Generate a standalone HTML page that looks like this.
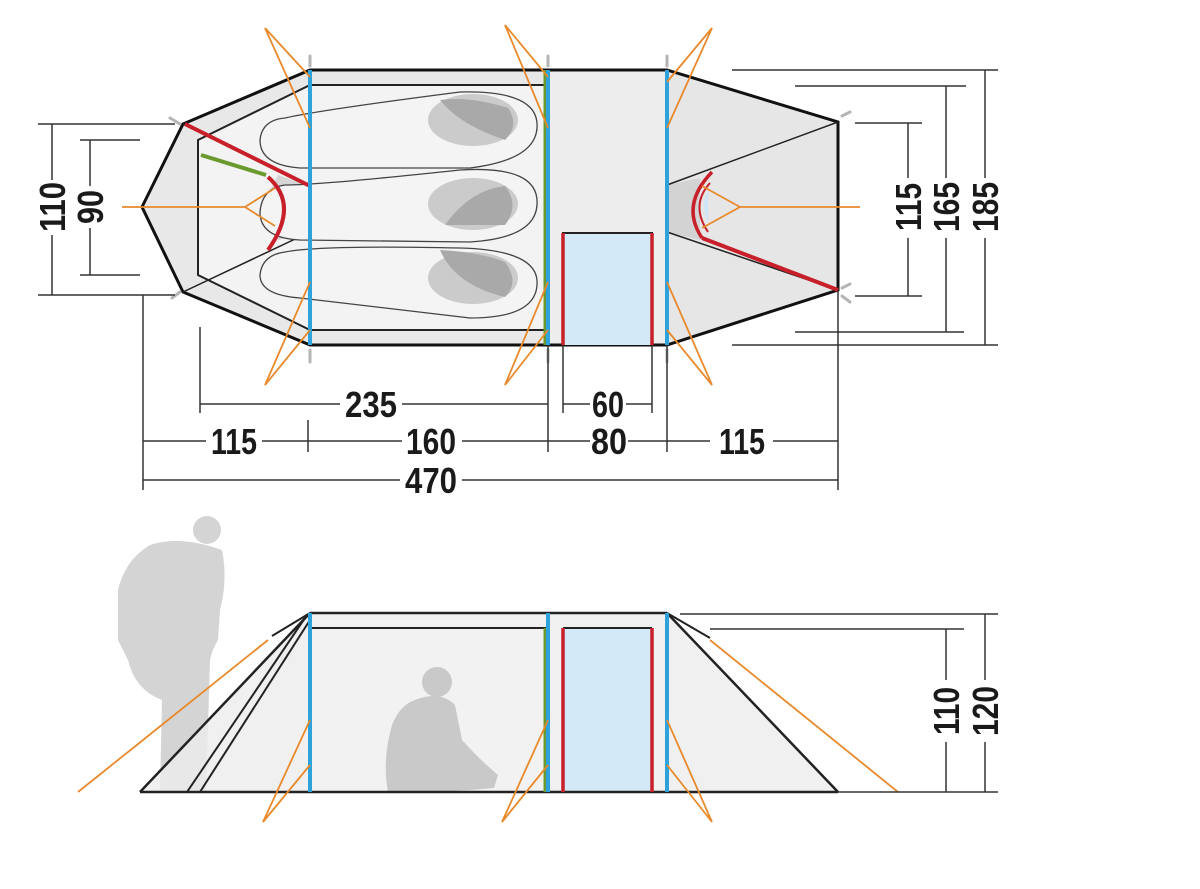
<!DOCTYPE html>
<html><head><meta charset="utf-8"><style>
html,body{margin:0;padding:0;background:#fff}
svg{display:block}
text{font-family:"Liberation Sans Narrow","Liberation Sans",sans-serif;font-weight:bold;font-size:36px;fill:#1a1a1a}
</style></head><body>
<svg width="1200" height="889" viewBox="0 0 1200 889" xmlns="http://www.w3.org/2000/svg">
<!-- ============ TOP VIEW ============ -->
<polygon points="310,70 667,70 838,122 838,290 667,345 310,345 183,292 142,207 183,124" fill="#e8e8e8" stroke="none"/>
<polygon points="310,85 548,85 548,330 310,330 198,275 198,140" fill="#f3f3f3" stroke="#222" stroke-width="2"/>
<polygon points="310,186 278,175 262,207 278,240 310,232" fill="#d6d6d6"/>
<path d="M270,188 Q262,207 272,230" fill="#cfe6f6" stroke="none"/>
<rect x="548" y="70" width="119" height="275" fill="#ededed"/>
<polygon points="667,70 838,122 838,290 667,345" fill="#e6e6e6"/>
<polygon points="667,185 700,178 700,240 667,232" fill="#d3d3d3"/>
<path d="M708,190 Q700,207 708,222" fill="#cfe6f6"/>
<polygon points="310,70 667,70 838,122 838,290 667,345 310,345 183,292 142,207 183,124" fill="none" stroke="#111" stroke-width="3"/>
<line x1="667" y1="185" x2="838" y2="122" stroke="#222" stroke-width="1.5"/>
<line x1="667" y1="232" x2="838" y2="290" stroke="#222" stroke-width="1.5"/>
<line x1="183" y1="292" x2="310" y2="232" stroke="#222" stroke-width="1.5"/>
<line x1="183" y1="124" x2="310" y2="186" stroke="#222" stroke-width="1.5"/>
<g fill="#f4f4f4" stroke="#444" stroke-width="1.3">
<path d="M285,118 Q320,110 460,92 Q540,90 537,128 Q535,160 470,168 L300,168 Q260,165 260,140 Q262,120 285,118Z"/>
<path d="M285,185 Q320,185 460,170 Q540,165 537,205 Q535,238 470,242 L300,240 Q260,238 260,212 Q262,188 285,185Z"/>
<path d="M285,252 Q320,245 460,248 Q540,250 537,285 Q535,318 470,318 L300,298 Q260,295 260,275 Q262,255 285,252Z"/>
</g>
<g fill="#cbcbcb">
<ellipse cx="473" cy="120" rx="45" ry="26"/>
<ellipse cx="473" cy="204" rx="45" ry="26"/>
<ellipse cx="473" cy="278" rx="45" ry="26"/>
</g>
<g fill="#a9a9a9">
<path d="M440,100 Q470,96 508,108 Q520,125 505,140 Q460,125 440,100Z"/>
<path d="M445,225 Q470,190 505,186 Q520,205 505,225 Z"/>
<path d="M440,250 Q480,252 505,262 Q520,282 505,297 Q455,285 440,250Z"/>
</g>
<rect x="563" y="233" width="89" height="112" fill="#d3e9f8"/>
<polyline points="563,345 563,233 652,233 652,345" fill="none" stroke="#222" stroke-width="2"/>
<line x1="563" y1="233" x2="563" y2="345" stroke="#c8202a" stroke-width="3.5"/>
<line x1="652" y1="233" x2="652" y2="345" stroke="#c8202a" stroke-width="3.5"/>
<line x1="185" y1="124" x2="310" y2="186" stroke="#c8202a" stroke-width="4"/>
<path d="M268,177 Q300,205 268,250" fill="none" stroke="#c8202a" stroke-width="4"/>
<line x1="201" y1="155" x2="266" y2="175" stroke="#6a9a2e" stroke-width="4"/>
<path d="M712,172 Q680,205 702,238" fill="none" stroke="#c8202a" stroke-width="3.5"/>
<path d="M710,183 Q690,205 708,232" fill="none" stroke="#c8202a" stroke-width="2"/>
<line x1="702" y1="238" x2="838" y2="290" stroke="#c8202a" stroke-width="4"/>
<line x1="545" y1="70" x2="545" y2="345" stroke="#6a9a2e" stroke-width="3"/>
<g stroke="#2ea3db" stroke-width="4">
<line x1="310" y1="70" x2="310" y2="345"/><line x1="548" y1="70" x2="548" y2="345"/><line x1="667" y1="70" x2="667" y2="345"/>
</g>
<g fill="none" stroke="#b5b5b5" stroke-width="3" stroke-linecap="round">
<line x1="310" y1="56" x2="310" y2="66"/><line x1="548" y1="56" x2="548" y2="66"/><line x1="667" y1="56" x2="667" y2="66"/>
<line x1="310" y1="350" x2="310" y2="362"/><line x1="548" y1="350" x2="548" y2="362"/><line x1="667" y1="350" x2="667" y2="362"/>
<line x1="170" y1="118" x2="180" y2="124"/><line x1="172" y1="298" x2="180" y2="292"/>
<line x1="842" y1="116" x2="850" y2="112"/><line x1="842" y1="296" x2="850" y2="302"/><line x1="842" y1="288" x2="850" y2="284"/>
</g>
<g stroke="#e88a2c" stroke-width="1.8" fill="none">
<polyline points="310,77 265,28 310,128"/>
<polyline points="310,282 265,385 310,330"/>
<polyline points="548,77 505,25 548,128"/>
<polyline points="548,282 505,385 548,330"/>
<polyline points="667,82 712,28 667,128"/>
<polyline points="667,282 712,385 667,330"/>
<polyline points="122,207 245,207 275,188"/><line x1="245" y1="207" x2="275" y2="226"/>
<polyline points="860,207 740,207 702,186"/><line x1="740" y1="207" x2="702" y2="228"/>
</g>
<g stroke="#333" stroke-width="1.5" fill="none">
<line x1="38" y1="124" x2="175" y2="124"/><line x1="38" y1="295" x2="175" y2="295"/>
<line x1="80" y1="140" x2="140" y2="140"/><line x1="80" y1="275" x2="140" y2="275"/>
<line x1="52" y1="124" x2="52" y2="180"/><line x1="52" y1="235" x2="52" y2="295"/>
<line x1="90" y1="140" x2="90" y2="186"/><line x1="90" y1="228" x2="90" y2="275"/>
<line x1="855" y1="123" x2="922" y2="123"/><line x1="855" y1="296" x2="922" y2="296"/>
<line x1="908" y1="123" x2="908" y2="178"/><line x1="908" y1="238" x2="908" y2="296"/>
<line x1="795" y1="86" x2="966" y2="86"/><line x1="795" y1="332" x2="964" y2="332"/>
<line x1="946" y1="86" x2="946" y2="178"/><line x1="946" y1="238" x2="946" y2="332"/>
<line x1="732" y1="70" x2="998" y2="70"/><line x1="732" y1="345" x2="998" y2="345"/>
<line x1="985" y1="70" x2="985" y2="178"/><line x1="985" y1="238" x2="985" y2="345"/>
<line x1="143" y1="295" x2="143" y2="490"/><line x1="200" y1="327" x2="200" y2="413"/>
<line x1="308" y1="420" x2="308" y2="452"/><line x1="548" y1="345" x2="548" y2="452"/>
<line x1="563" y1="345" x2="563" y2="413"/><line x1="652" y1="345" x2="652" y2="413"/>
<line x1="667" y1="345" x2="667" y2="452"/><line x1="838" y1="290" x2="838" y2="490"/>
<line x1="200" y1="404" x2="340" y2="404"/><line x1="402" y1="404" x2="548" y2="404"/>
<line x1="563" y1="404" x2="590" y2="404"/><line x1="626" y1="404" x2="652" y2="404"/>
<line x1="143" y1="441" x2="206" y2="441"/><line x1="262" y1="441" x2="402" y2="441"/>
<line x1="462" y1="441" x2="590" y2="441"/><line x1="628" y1="441" x2="710" y2="441"/>
<line x1="773" y1="441" x2="838" y2="441"/>
<line x1="143" y1="480" x2="400" y2="480"/><line x1="462" y1="480" x2="838" y2="480"/>
</g>
<text x="371" y="417" text-anchor="middle" textLength="52" lengthAdjust="spacingAndGlyphs">235</text>
<text x="608" y="417" text-anchor="middle" textLength="32" lengthAdjust="spacingAndGlyphs">60</text>
<text x="234" y="454" text-anchor="middle" textLength="46" lengthAdjust="spacingAndGlyphs">115</text>
<text x="431" y="454" text-anchor="middle" textLength="50" lengthAdjust="spacingAndGlyphs">160</text>
<text x="609" y="454" text-anchor="middle" textLength="36" lengthAdjust="spacingAndGlyphs">80</text>
<text x="742" y="454" text-anchor="middle" textLength="46" lengthAdjust="spacingAndGlyphs">115</text>
<text x="431" y="493" text-anchor="middle" textLength="52" lengthAdjust="spacingAndGlyphs">470</text>
<text transform="translate(65,207) rotate(-90)" text-anchor="middle" textLength="50" lengthAdjust="spacingAndGlyphs">110</text>
<text transform="translate(103,207) rotate(-90)" text-anchor="middle" textLength="34" lengthAdjust="spacingAndGlyphs">90</text>
<text transform="translate(921,207) rotate(-90)" text-anchor="middle" textLength="48" lengthAdjust="spacingAndGlyphs">115</text>
<text transform="translate(959,207) rotate(-90)" text-anchor="middle" textLength="50" lengthAdjust="spacingAndGlyphs">165</text>
<text transform="translate(998,207) rotate(-90)" text-anchor="middle" textLength="50" lengthAdjust="spacingAndGlyphs">185</text>

<!-- ============ SIDE VIEW ============ -->
<g fill="#d4d4d4">
<circle cx="207" cy="530" r="14"/>
<path d="M150,545 Q180,535 222,550 Q228,580 220,610 L218,640 Q212,650 210,660 L206,792 L160,792 L162,700 Q135,690 128,660 L118,640 L118,590 Q125,560 150,545Z"/>
</g>
<polygon points="310,613 667,613 838,792 140,792" fill="#ececec" fill-opacity="0.8"/>
<rect x="310" y="628" width="238" height="164" fill="#f4f4f4" fill-opacity="0.6"/>
<rect x="563" y="628" width="89" height="164" fill="#d3e9f8"/>
<!-- seated person -->
<g fill="#c9c9c9">
<circle cx="437" cy="682" r="15"/>
<path d="M415,700 Q440,690 455,705 L462,740 Q480,760 498,775 L494,788 L470,790 L430,792 L388,792 Q382,760 392,725 Q400,705 415,700Z"/>
</g>
<g stroke="#222" stroke-width="2" fill="none">
<line x1="310" y1="613" x2="667" y2="613" stroke-width="2.5"/>
<line x1="310" y1="628" x2="548" y2="628"/><line x1="563" y1="628" x2="652" y2="628"/>
<line x1="140" y1="792" x2="838" y2="792" stroke-width="2.5"/>
<line x1="310" y1="613" x2="140" y2="792" stroke-width="2.5"/>
<line x1="305" y1="618" x2="187" y2="792"/><line x1="310" y1="620" x2="200" y2="792"/>
<line x1="310" y1="613" x2="272" y2="636"/>
<line x1="667" y1="613" x2="838" y2="792" stroke-width="2.5"/>
<line x1="667" y1="613" x2="710" y2="638"/>
</g>
<line x1="545" y1="628" x2="545" y2="792" stroke="#6a9a2e" stroke-width="3"/>
<line x1="563" y1="628" x2="563" y2="792" stroke="#c8202a" stroke-width="3.5"/>
<line x1="652" y1="628" x2="652" y2="792" stroke="#c8202a" stroke-width="3.5"/>
<g stroke="#2ea3db" stroke-width="4">
<line x1="310" y1="613" x2="310" y2="792"/><line x1="548" y1="613" x2="548" y2="792"/><line x1="667" y1="613" x2="667" y2="792"/>
</g>
<g stroke="#e88a2c" stroke-width="1.8" fill="none">
<line x1="78" y1="792" x2="268" y2="640"/>
<line x1="710" y1="640" x2="898" y2="792"/>
<polyline points="310,720 263,822 310,765"/>
<polyline points="548,720 502,822 548,765"/>
<polyline points="667,720 712,822 667,765"/>
</g>
<g stroke="#333" stroke-width="1.5">
<line x1="680" y1="614" x2="998" y2="614"/><line x1="710" y1="629" x2="964" y2="629"/>
<line x1="838" y1="792" x2="998" y2="792"/>
<line x1="946" y1="629" x2="946" y2="680"/><line x1="946" y1="742" x2="946" y2="792"/>
<line x1="985" y1="614" x2="985" y2="680"/><line x1="985" y1="742" x2="985" y2="792"/>
</g>
<text transform="translate(959,711) rotate(-90)" text-anchor="middle" textLength="48" lengthAdjust="spacingAndGlyphs">110</text>
<text transform="translate(998,711) rotate(-90)" text-anchor="middle" textLength="50" lengthAdjust="spacingAndGlyphs">120</text>
</svg>
</body></html>
